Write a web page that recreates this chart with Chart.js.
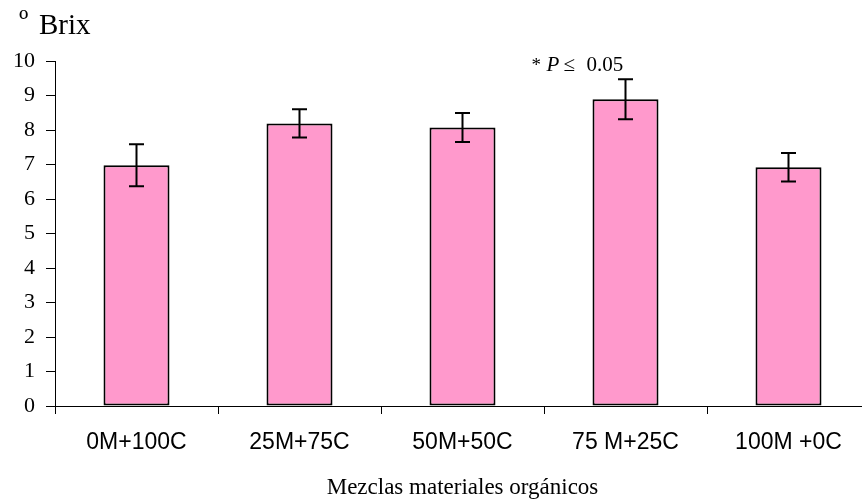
<!DOCTYPE html>
<html>
<head>
<meta charset="utf-8">
<title>Brix por mezcla</title>
<script src="https://cdn.jsdelivr.net/npm/chart.js@4.4.1/dist/chart.umd.min.js"></script>
<style>
    html, body { margin: 0; padding: 0; background: #fff; overflow: hidden; }
    #wrap { width: 871px; height: 500px; position: relative; }
</style>
</head>
<body>
<div id="wrap"><canvas id="chart"></canvas></div>
<script>
// ---- data ----
const categories = ['0M+100C', '25M+75C', '50M+50C', '75 M+25C', '100M +0C'];
const brix = [6.98, 8.19, 8.07, 8.89, 6.92];
const brixError = [0.61, 0.41, 0.42, 0.58, 0.41];
const yTicks = [0, 1, 2, 3, 4, 5, 6, 7, 8, 9, 10];

const SERIF = "'Liberation Serif', 'Times New Roman', serif";
const SANS = "'Liberation Sans', Arial, sans-serif";

// error bars drawn from the scales
const errorBars = {
    id: 'errorBars',
    afterDatasetsDraw(chart) {
        const { ctx, scales: { x, y } } = chart;
        ctx.save();
        ctx.strokeStyle = '#000';
        ctx.lineWidth = 2;
        brix.forEach((v, i) => {
            const px = x.getPixelForValue(i);
            const top = y.getPixelForValue(v + brixError[i]);
            const bot = y.getPixelForValue(v - brixError[i]);
            ctx.beginPath();
            ctx.moveTo(px, top); ctx.lineTo(px, bot);
            ctx.moveTo(px - 7.5, top); ctx.lineTo(px + 7.5, top);
            ctx.moveTo(px - 7.5, bot); ctx.lineTo(px + 7.5, bot);
            ctx.stroke();
        });
        ctx.restore();
    },
};

// y-axis label and significance note
const labels = {
    id: 'labels',
    afterDraw(chart) {
        const { ctx, scales: { x, y } } = chart;
        ctx.save();
        ctx.fillStyle = '#000';
        ctx.textBaseline = 'alphabetic';
        ctx.textAlign = 'left';
        ctx.font = '29px ' + SERIF;
        ctx.fillText('Brix', 39, 34);
        ctx.font = '30px ' + SERIF;
        ctx.fillText('º', 19, 30);

        // "* P ≤ 0.05" above the 75M+25C bar
        const ax = x.getPixelForValue(3) - 94;
        const ay = y.getPixelForValue(9.7);
        ctx.font = '19px ' + SERIF;
        ctx.fillText('*', ax, ay);
        ctx.font = 'italic 21px ' + SERIF;
        ctx.fillText('P', ax + 15, ay);
        ctx.font = '21px ' + SERIF;
        ctx.fillText('≤', ax + 32, ay);
        ctx.fillText('0.05', ax + 55, ay);
        ctx.restore();
    },
};

new Chart(document.getElementById('chart').getContext('2d'), {
    type: 'bar',
    data: {
        labels: categories,
        datasets: [{
            data: brix,
            backgroundColor: '#FF99CC',
            borderColor: '#000',
            borderWidth: 2,
            borderSkipped: false,
            categoryPercentage: 1,
            barPercentage: 0.405,
        }],
    },
    options: {
        responsive: true,
        maintainAspectRatio: false,
        animation: false,
        layout: { padding: { top: 61, left: 0, right: 1, bottom: 0 } },
        plugins: {
            legend: { display: false },
            tooltip: { enabled: false },
        },
        scales: {
            x: {
                offset: true,
                grid: {
                    offset: true,
                    drawOnChartArea: false,
                    color: '#000',
                    tickLength: 8,
                    lineWidth: 1,
                },
                border: { color: '#000', width: 1 },
                ticks: {
                    color: '#000',
                    font: { family: SANS, size: 23 },
                    padding: 15,
                    maxRotation: 0,
                    autoSkip: false,
                },
                title: {
                    display: true,
                    text: 'Mezclas materiales orgánicos',
                    color: '#000',
                    font: { family: SERIF, size: 23 },
                    padding: { top: 0, bottom: -2 },
                },
                afterFit: (s) => { s.height = 94; },
            },
            y: {
                min: 0,
                max: 10,
                afterBuildTicks: (s) => { s.ticks = yTicks.map(v => ({ value: v })); },
                grid: {
                    drawOnChartArea: false,
                    color: '#000',
                    tickLength: 9,
                    lineWidth: 1,
                },
                border: { color: '#000', width: 1 },
                ticks: {
                    color: '#000',
                    font: { family: SERIF, size: 22 },
                    padding: 11,
                },
                afterFit: (s) => { s.width = 55; },
            },
        },
    },
    plugins: [errorBars, labels],
});
</script>
</body>
</html>
